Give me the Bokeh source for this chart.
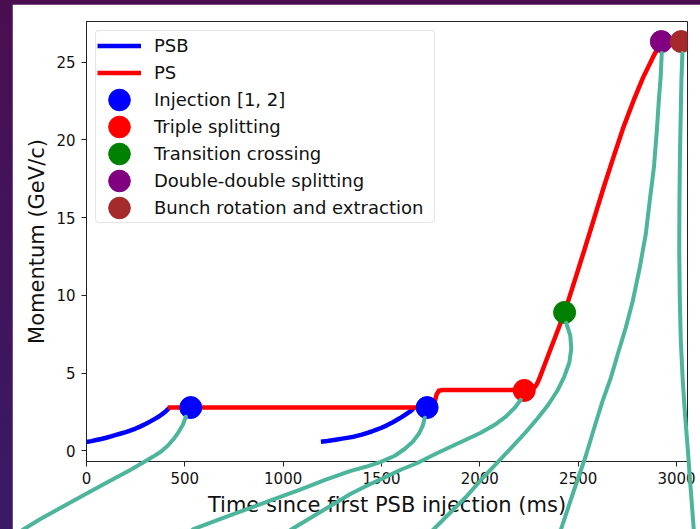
from bokeh.plotting import figure
from bokeh.models import Range1d, FixedTicker, Legend, LegendItem
from bokeh.layouts import column
from bokeh.embed import file_html
from bokeh.resources import INLINE

# ---- momentum programs (time in ms since first PSB injection, momentum in GeV/c)
psb1_t = [0, 25, 50, 75, 100, 125, 150, 175, 200, 225, 250, 275, 300, 325,
          350, 370, 390, 405, 420]
psb1_p = [0.57, 0.62, 0.69, 0.76, 0.84, 0.93, 1.02, 1.11, 1.2, 1.31, 1.43,
          1.57, 1.72, 1.89, 2.07, 2.22, 2.4, 2.56, 2.74]

psb2_t = [1192, 1225, 1250, 1275, 1300, 1325, 1350, 1375, 1400, 1425, 1450,
          1475, 1500, 1525, 1550, 1575, 1600, 1620, 1640, 1655, 1665]
psb2_p = [0.58, 0.63, 0.68, 0.73, 0.78, 0.83, 0.88, 0.96, 1.04, 1.14, 1.24,
          1.36, 1.48, 1.62, 1.78, 1.96, 2.15, 2.31, 2.48, 2.63, 2.76]

ps_t = [413, 1755, 1765, 1772, 1780, 1792, 1810, 2240, 2255, 2268, 2278, 2287,
        2295, 2305, 2330, 2360, 2395, 2431, 2480, 2530, 2580, 2630, 2680, 2730,
        2781, 2830, 2880, 2923]
ps_p = [2.78, 2.78, 2.86, 3.2, 3.62, 3.86, 3.91, 3.91, 3.93, 3.98, 4.07, 4.22,
        4.42, 4.72, 5.55, 6.55, 7.7, 8.9, 10.85, 12.85, 14.9, 16.95, 18.9, 20.8,
        22.5, 24.0, 25.3, 26.32]

# ---- key events along the cycle
injection_t = [530, 1732]
injection_p = [2.78, 2.78]
triple_t = [2226]
triple_p = [3.88]
transition_t = [2431]
transition_p = [8.9]
dd_split_t = [2923]
dd_split_p = [26.32]
extraction_t = [3024]
extraction_p = [26.32]

# ---- hand-drawn callout strokes leading away from each event
callout1_t = [505, 490, 469, 444, 413, 378, 337, 286, 225, 149, 73, -29, -131,
              -232, -324]
callout1_p = [2.19, 1.67, 1.22, 0.77, 0.32, -0.06, -0.39, -0.77, -1.22, -1.74,
              -2.25, -2.96, -3.67, -4.37, -5.08]
callout2_t = [1720, 1710, 1690, 1659, 1619, 1568, 1497, 1420, 1344, 1217, 1090,
              937, 785, 658, 541]
callout2_p = [2.12, 1.61, 1.09, 0.58, 0.13, -0.32, -0.71, -1.03, -1.29, -1.86,
              -2.48, -3.19, -3.90, -4.50, -5.05]
callout3_t = [2208, 2178, 2132, 2076, 2005, 1929, 1852, 1766, 1685, 1598, 1512,
              1425, 1344, 1268, 1191, 1115, 1039]
callout3_p = [3.28, 2.77, 2.19, 1.67, 1.16, 0.71, 0.26, -0.26, -0.77, -1.22,
              -1.74, -2.25, -2.77, -3.34, -3.92, -4.50, -5.08]
callout4_t = [2439, 2460, 2465, 2455, 2429, 2394, 2348, 2292, 2231, 2160, 2083,
              2007, 1931, 1844, 1763]
callout4_p = [8.23, 7.40, 6.56, 5.66, 4.76, 3.86, 2.96, 2.06, 1.16, 0.19, -0.84,
              -1.86, -2.96, -4.05, -5.08]
callout5_t = [2925, 2920, 2910, 2900, 2885, 2864, 2844, 2813, 2778, 2742, 2702,
              2666, 2625, 2585, 2539, 2478, 2412]
callout5_p = [25.59, 24.12, 22.51, 20.58, 18.20, 16.08, 13.95, 11.77, 9.65, 7.91,
              6.24, 4.69, 3.22, 1.61, -0.32, -2.57, -5.08]
callout6_t = [3030, 3025, 3022, 3018, 3015, 3014, 3017, 3022, 3032, 3042, 3058,
              3073, 3088]
callout6_p = [25.59, 23.79, 21.86, 19.29, 16.08, 12.86, 9.65, 7.07, 4.50, 2.57,
              0.0, -2.57, -5.08]

x_ticks = [0, 500, 1000, 1500, 2000, 2500, 3000]
y_ticks = [0, 5, 10, 15, 20, 25]

FONT = "DejaVu Sans"
TEAL = "#4cb59b"

p = figure(width=688, height=525,
           x_range=Range1d(0, 3056), y_range=Range1d(-0.69, 27.61),
           output_backend="svg", toolbar_location=None,
           min_border_left=74, min_border_right=13,
           min_border_top=17, min_border_bottom=68,
           background_fill_color="white", border_fill_color="white")
p.margin = (4, 0, 0, 12)

p.xgrid.visible = False
p.ygrid.visible = False
p.outline_line_color = "#222222"
p.outline_line_width = 1

for ax, ticks in ((p.xaxis, x_ticks), (p.yaxis, y_ticks)):
    ax.ticker = FixedTicker(ticks=ticks)
    ax.major_tick_in = 0
    ax.major_tick_out = 5
    ax.minor_tick_line_color = None
    ax.axis_line_color = "#222222"
    ax.major_tick_line_color = "#222222"
    ax.major_label_text_font = FONT
    ax.major_label_text_font_size = "15px"
    ax.major_label_text_color = "#111111"
    ax.axis_label_text_font = FONT
    ax.axis_label_text_font_size = "21px"
    ax.axis_label_text_font_style = "normal"
    ax.axis_label_text_color = "#111111"

p.xaxis.axis_label = "Time since first PSB injection (ms)"
p.yaxis.axis_label = "Momentum (GeV/c)"
p.xaxis.major_label_standoff = 5
p.yaxis.major_label_standoff = 6
p.xaxis.axis_label_standoff = 6
p.yaxis.axis_label_standoff = 4

# momentum ramps
r_psb = p.line(psb1_t, psb1_p, line_color="blue", line_width=4.5, line_join="round")
p.line(psb2_t, psb2_p, line_color="blue", line_width=4.5, line_join="round")
r_ps = p.line(ps_t, ps_p, line_color="red", line_width=4.5, line_join="round")

# callout strokes, drawn on top and allowed past the frame
for ct, cp in ((callout1_t, callout1_p), (callout2_t, callout2_p),
               (callout3_t, callout3_p), (callout4_t, callout4_p),
               (callout5_t, callout5_p), (callout6_t, callout6_p)):
    p.line(ct, cp, line_color=TEAL, line_width=4, line_cap="round",
           line_join="round", level="overlay")

# event markers
def dots(t, mom, color):
    return p.ellipse(t, mom, width=22, height=22,
                     width_units="screen", height_units="screen",
                     fill_color=color, line_color=color, line_width=1)

r_inj = dots(injection_t, injection_p, "blue")
r_tri = dots(triple_t, triple_p, "red")
r_tr = dots(transition_t, transition_p, "green")
r_dd = dots(dd_split_t, dd_split_p, "purple")
r_ex = dots(extraction_t, extraction_p, "brown")

legend = Legend(items=[
    LegendItem(label="PSB", renderers=[r_psb]),
    LegendItem(label="PS", renderers=[r_ps]),
    LegendItem(label="Injection [1, 2]", renderers=[r_inj]),
    LegendItem(label="Triple splitting", renderers=[r_tri]),
    LegendItem(label="Transition crossing", renderers=[r_tr]),
    LegendItem(label="Double-double splitting", renderers=[r_dd]),
    LegendItem(label="Bunch rotation and extraction", renderers=[r_ex]),
], location="top_left")
legend.margin = 9
legend.padding = 1
legend.spacing = 0
legend.glyph_width = 44
legend.glyph_height = 27
legend.label_height = 27
legend.label_width = 279
legend.label_standoff = 13
legend.label_text_font = FONT
legend.label_text_font_size = "18px"
legend.label_text_color = "#111111"
legend.border_line_color = "#cccccc"
legend.border_line_width = 1
legend.background_fill_color = "white"
legend.background_fill_alpha = 0.8
if "border_radius" in Legend.properties():
    legend.border_radius = 4
p.add_layout(legend)

page = column(p, width=700, height=529,
              styles={"background": "linear-gradient(to bottom, #4a0e50, #391a66)"})

open("out.html", "w").write(file_html(page, INLINE))
